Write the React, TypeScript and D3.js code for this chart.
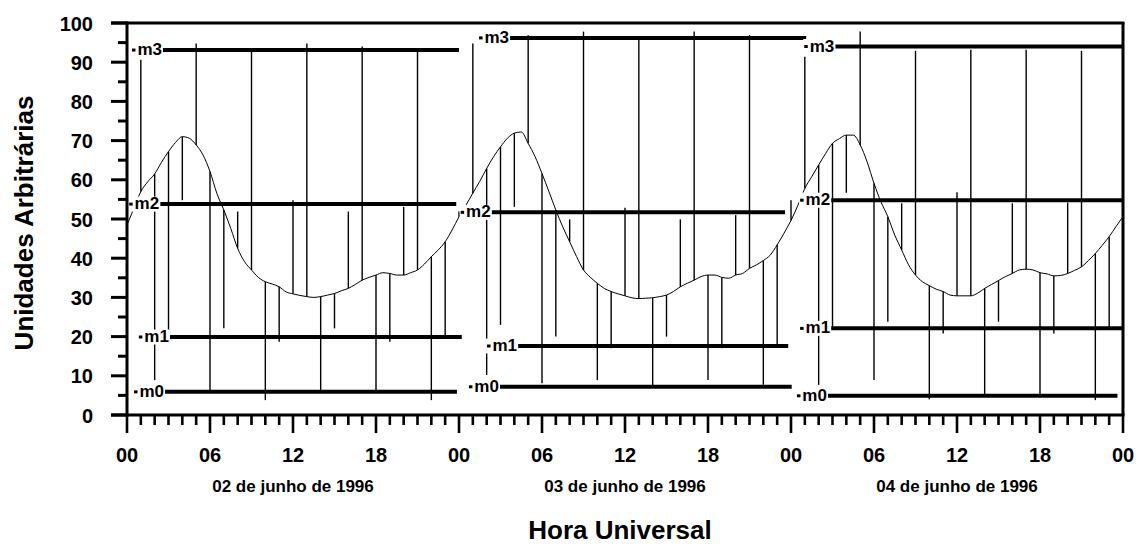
import React from "react";
import * as d3 from "d3";

// Hour labels along the time axis (every 6 h over three days)
const hourTickLabels = ["00", "06", "12", "18", "00", "06", "12", "18", "00", "06", "12", "18", "00"];
const dayLabels = ["02 de junho de 1996", "03 de junho de 1996", "04 de junho de 1996"];
const yTickValues = [0, 10, 20, 30, 40, 50, 60, 70, 80, 90, 100];
const levelNames = ["m0", "m1", "m2", "m3"];

// Daily variation, sampled every half hour (00:00 .. 24:00)
const day1Curve = [
  48.5, 52.7, 57.0, 59.5, 61.5, 64.5, 67.2, 69.5, 71.0, 70.6, 68.9, 66.3, 62.1, 56.5, 52.3, 47.6,
  42.5, 39.1, 37.0, 35.1, 34.0, 33.4, 32.7, 31.4, 30.9, 30.5, 30.2, 30.0, 30.2, 30.6, 31.0, 31.7,
  32.3, 33.3, 34.4, 35.1, 35.7, 36.3, 36.1, 35.7, 35.7, 36.3, 37.0, 38.5, 40.4, 42.1, 44.2, 47.2, 50.6,
];
const day2Curve = [
  50.6, 53.5, 56.6, 59.6, 62.9, 65.9, 68.4, 70.6, 71.9, 72.2, 69.3, 65.9, 61.6, 57.0, 52.3, 48.0,
  44.2, 40.4, 37.0, 35.1, 33.6, 32.3, 31.5, 30.9, 30.4, 29.9, 29.7, 29.8, 29.9, 30.2, 30.6, 31.5,
  32.7, 33.6, 34.4, 35.3, 35.7, 35.7, 35.1, 34.9, 35.7, 36.1, 37.4, 38.3, 39.4, 40.8, 43.4, 46.4, 49.6,
];
const day3Curve = [
  49.6, 53.5, 57.8, 60.8, 63.8, 66.7, 69.3, 70.5, 71.4, 71.4, 68.9, 64.6, 59.1, 54.4, 50.6, 45.9,
  42.1, 38.3, 35.7, 34.0, 33.0, 32.1, 31.5, 30.6, 30.4, 30.4, 30.4, 31.1, 32.3, 33.3, 34.3, 35.3,
  36.1, 37.0, 37.2, 37.0, 36.3, 36.0, 35.5, 35.6, 36.1, 36.9, 37.8, 39.4, 41.2, 43.3, 45.5, 48.1, 50.6,
];

// Hourly stick ends (00 .. 23 h); each stick runs from the curve to this value
const day1Ends = [54.0, 90.6, 8.9, 20.0, 54.8, 94.8, 6.4, 22.1, 51.9, 92.7, 3.8, 18.7, 54.8, 94.8, 6.4, 22.1, 51.9, 94.0, 6.4, 18.7, 53.1, 92.7, 3.8, 20.0];
const day2Ends = [51.9, 94.8, 10.2, 23.0, 53.1, 96.9, 8.1, 20.0, 49.9, 97.8, 8.9, 17.0, 52.9, 95.7, 7.2, 20.0, 49.9, 97.8, 8.9, 17.0, 51.0, 96.9, 7.7, 17.9];
const day3Ends = [54.8, 91.4, 7.7, 22.1, 56.7, 97.8, 8.9, 23.8, 54.0, 92.9, 4.0, 20.8, 56.8, 93.2, 5.1, 23.8, 54.0, 93.2, 5.1, 20.8, 54.2, 92.9, 3.8, 22.1];

// Levels m0..m3 per day and their extent in hours from the start of the day
const day1Levels = [5.9, 19.9, 53.8, 93.1];
const day2Levels = [7.2, 17.6, 51.7, 96.2];
const day3Levels = [4.9, 22.1, 54.8, 94.0];
const day1Spans = [[2.75, 23.85], [3.1, 24.2], [2.4, 23.8], [2.6, 24.0]];
const day2Spans = [[2.96, 24.05], [4.27, 23.8], [2.36, 23.57], [3.69, 25.1]];
const day3Spans = [[2.67, 23.6], [2.9, 24.0], [2.9, 24.0], [3.2, 24.0]];

const days = [
  { start: 0, curve: day1Curve, ends: day1Ends, levels: day1Levels, spans: day1Spans, label: dayLabels[0] },
  { start: 24, curve: day2Curve, ends: day2Ends, levels: day2Levels, spans: day2Spans, label: dayLabels[1] },
  { start: 48, curve: day3Curve, ends: day3Ends, levels: day3Levels, spans: day3Spans, label: dayLabels[2] },
];

const W = 1144;
const H = 550;
const FONT = "'Liberation Sans', Arial, Helvetica, sans-serif";

export default function App() {
  const x = d3.scaleLinear().domain([0, 72]).range([127, 1123]);
  const y = d3.scaleLinear().domain([0, 100]).range([415, 23]);

  const line = d3
    .line<[number, number]>()
    .x((d) => x(d[0]))
    .y((d) => y(d[1]))
    .curve(d3.curveMonotoneX);

  const hours = d3.range(0, 73);
  const yMinor = d3.range(5, 100, 10);

  return (
    <svg
      width={W}
      height={H}
      viewBox={`0 0 ${W} ${H}`}
      style={{ position: "absolute", left: 0, top: 0, background: "#fff" }}
      fontFamily={FONT}
    >
      <rect x={0} y={0} width={W} height={H} fill="#fff" />

      {/* hourly sticks */}
      {days.map((d, di) =>
        d.ends.map((v, k) => (
          <line
            key={`s${di}-${k}`}
            x1={x(d.start + k)}
            x2={x(d.start + k)}
            y1={y(d.curve[k * 2])}
            y2={y(v)}
            stroke="#000"
            strokeWidth={1.4}
          />
        ))
      )}

      {/* daily variation curve */}
      {days.map((d, di) => (
        <path
          key={`c${di}`}
          d={line(d.curve.map((v, i) => [d.start + i * 0.5, v] as [number, number])) || ""}
          fill="none"
          stroke="#000"
          strokeWidth={1}
        />
      ))}

      {/* level lines m0..m3 */}
      {days.map((d, di) =>
        d.levels.map((lv, li) => (
          <line
            key={`m${di}-${li}`}
            x1={x(d.start + d.spans[li][0])}
            x2={x(d.start + d.spans[li][1])}
            y1={y(lv)}
            y2={y(lv)}
            stroke="#000"
            strokeWidth={4}
          />
        ))
      )}

      {/* level labels */}
      {days.map((d, di) =>
        d.levels.map((lv, li) => {
          const xs = x(d.start + d.spans[li][0]);
          const yy = y(lv);
          const textEnd = xs - 1;
          const textW = 25;
          return (
            <g key={`l${di}-${li}`}>
              <rect x={textEnd - textW - 6} y={yy - 7.5} width={textW + 7} height={15} fill="#fff" />
              <rect x={textEnd - textW - 5} y={yy - 1.5} width={3.5} height={3} fill="#000" />
              <text x={textEnd} y={yy + 5} textAnchor="end" fontSize={17} fontWeight="bold" fill="#000">
                {levelNames[li]}
              </text>
            </g>
          );
        })
      )}

      {/* frame */}
      <line x1={111} x2={1124.5} y1={y(100)} y2={y(100)} stroke="#000" strokeWidth={3} />
      <line x1={x(72)} x2={x(72)} y1={y(100)} y2={y(0)} stroke="#000" strokeWidth={3} />
      <line x1={x(0)} x2={x(0)} y1={y(100) - 1.5} y2={y(0) + 1.5} stroke="#000" strokeWidth={3} />
      <line x1={111} x2={1124.5} y1={y(0)} y2={y(0)} stroke="#000" strokeWidth={3} />

      {/* y ticks */}
      {yTickValues.map((v) => (
        <g key={`yt${v}`}>
          <line x1={111} x2={x(0)} y1={y(v)} y2={y(v)} stroke="#000" strokeWidth={3} />
          <text x={93} y={y(v) + 7.5} textAnchor="end" fontSize={20} fontWeight="bold" fill="#000">
            {v}
          </text>
        </g>
      ))}
      {yMinor.map((v) => (
        <line key={`ym${v}`} x1={118} x2={x(0)} y1={y(v)} y2={y(v)} stroke="#000" strokeWidth={3} />
      ))}

      {/* x ticks */}
      {hours.map((h) => (
        <line
          key={`xt${h}`}
          x1={x(h)}
          x2={x(h)}
          y1={y(0)}
          y2={y(0) + (h % 6 === 0 ? 18 : 10)}
          stroke="#000"
          strokeWidth={2.6}
        />
      ))}
      {hourTickLabels.map((t, i) => (
        <text key={`xl${i}`} x={x(i * 6)} y={462} textAnchor="middle" fontSize={20} fontWeight="bold" fill="#000">
          {t}
        </text>
      ))}

      {/* day captions */}
      {days.map((d, di) => (
        <text key={`dl${di}`} x={x(d.start + 12)} y={492} textAnchor="middle" fontSize={17} fontWeight="bold" fill="#000">
          {d.label}
        </text>
      ))}

      {/* axis titles */}
      <text x={620} y={539} textAnchor="middle" fontSize={26} fontWeight="bold" fill="#000">
        Hora Universal
      </text>
      <text
        transform={`translate(33, 223) rotate(-90)`}
        textAnchor="middle"
        fontSize={26}
        fontWeight="bold"
        fill="#000"
      >
        Unidades Arbitrárias
      </text>
    </svg>
  );
}
